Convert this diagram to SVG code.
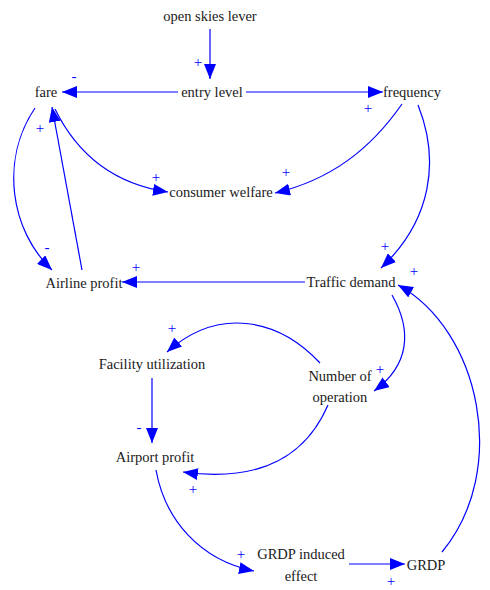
<svg xmlns="http://www.w3.org/2000/svg" width="490" height="590" viewBox="0 0 490 590">
<style>
.t text{font-family:'Liberation Serif','DejaVu Serif',serif;font-size:14.5px;fill:#1a1a1a;text-anchor:middle}
.p text{font-family:'Liberation Serif','DejaVu Serif',serif;font-size:15px;fill:#0000ff;text-anchor:middle}
.c path{fill:none;stroke:#0000ff;stroke-width:1.2}
</style>
<defs>
<marker id="a" markerUnits="userSpaceOnUse" markerWidth="16" markerHeight="12" refX="15" refY="6" orient="auto">
<path d="M0,0 L15,6 L0,12 Z" fill="#0000ff"/>
</marker>
</defs>
<rect width="490" height="590" fill="#fff"/>
<g class="c" id="connectors">
<path d="M210,29 L210,79" marker-end="url(#a)"/>
<path d="M178,92 L62,92" marker-end="url(#a)"/>
<path d="M246,92 L383,92" marker-end="url(#a)"/>
<path d="M55,109 C80,160 120,185 168,192" marker-end="url(#a)"/>
<path d="M402,104 C370,150 330,180 275,193" marker-end="url(#a)"/>
<path d="M35,108 C0,160 10,230 52,270" marker-end="url(#a)"/>
<path d="M82,270 L52,107" marker-end="url(#a)"/>
<path d="M305,282 L122,282" marker-end="url(#a)"/>
<path d="M418,105 C440,160 432,220 381,268" marker-end="url(#a)"/>
<path d="M392,295 C412,330 410,365 374,391" marker-end="url(#a)"/>
<path d="M442,552 C510,470 480,330 398,285" marker-end="url(#a)"/>
<path d="M320,363 C280,320 220,305 167,352" marker-end="url(#a)"/>
<path d="M152,378 L152,443" marker-end="url(#a)"/>
<path d="M328,405 C300,470 240,480 183,472" marker-end="url(#a)"/>
<path d="M156,470 C165,520 200,560 254,571" marker-end="url(#a)"/>
<path d="M349,564 L405,564" marker-end="url(#a)"/>
</g>
<g id="polarities" class="p">
<text x="198" y="67">+</text>
<text x="74" y="81">-</text>
<text x="368" y="113">+</text>
<text x="286" y="177">+</text>
<text x="156" y="182">+</text>
<text x="47" y="252">-</text>
<text x="40" y="133">+</text>
<text x="136" y="272">+</text>
<text x="385" y="251">+</text>
<text x="414" y="276">+</text>
<text x="380" y="374">+</text>
<text x="172" y="333">+</text>
<text x="139" y="432">-</text>
<text x="193" y="494">+</text>
<text x="241" y="559">+</text>
<text x="391" y="586">+</text>
</g>
<g class="t">
<g id="n-open"><text x="210" y="21">open skies lever</text></g>
<g id="n-entry"><text x="212" y="97">entry level</text></g>
<g id="n-fare"><text x="46" y="97">fare</text></g>
<g id="n-freq"><text x="412" y="97">frequency</text></g>
<g id="n-cw"><text x="221" y="197">consumer welfare</text></g>
<g id="n-ap"><text x="84" y="288">Airline profit</text></g>
<g id="n-td"><text x="351" y="287">Traffic demand</text></g>
<g id="n-fu"><text x="152" y="369">Facility utilization</text></g>
<g id="n-no"><text x="340" y="381">Number of</text><text x="340" y="402">operation</text></g>
<g id="n-airp"><text x="155" y="462">Airport profit</text></g>
<g id="n-gie"><text x="301" y="559">GRDP induced</text><text x="301" y="581">effect</text></g>
<g id="n-grdp"><text x="426" y="570">GRDP</text></g>
</g>
</svg>
